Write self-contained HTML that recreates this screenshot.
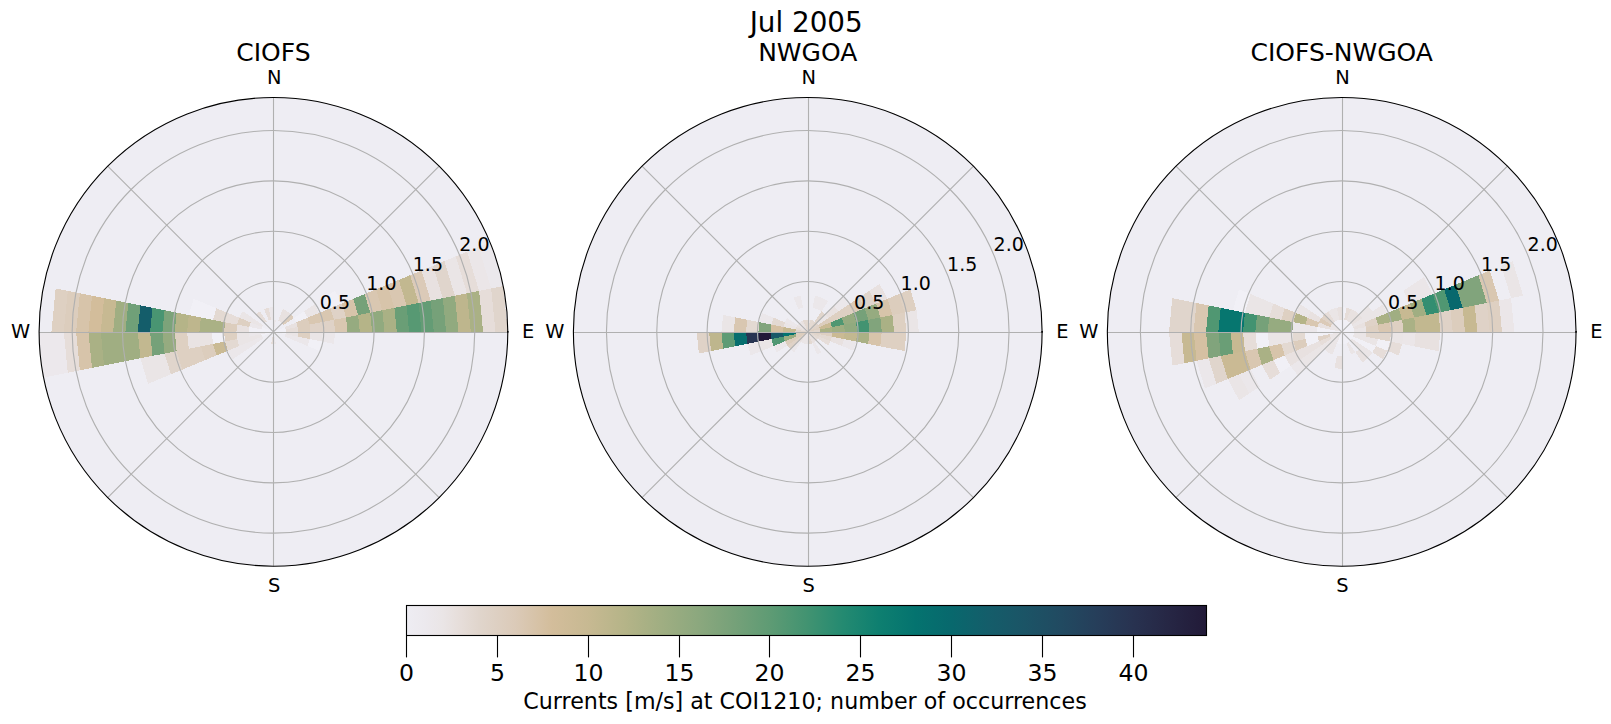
<!DOCTYPE html><html><head><meta charset="utf-8"><title>Jul 2005</title><style>html,body{margin:0;padding:0;background:#fff}svg{display:block}text{font-family:"DejaVu Sans","Liberation Sans",sans-serif;fill:#000}</style></head><body>
<svg width="1611" height="724" viewBox="0 0 1611 724">
<rect width="1611" height="724" fill="#fff"/>
<defs><linearGradient id="cb" x1="0" x2="1" y1="0" y2="0">
<stop offset="0.0000" stop-color="#eeedf3"/>
<stop offset="0.0227" stop-color="#ece9ee"/>
<stop offset="0.0455" stop-color="#eae5e6"/>
<stop offset="0.0682" stop-color="#e6ddd9"/>
<stop offset="0.0909" stop-color="#e0d5cc"/>
<stop offset="0.1364" stop-color="#dbcab8"/>
<stop offset="0.1818" stop-color="#d3bd9b"/>
<stop offset="0.2273" stop-color="#c7b992"/>
<stop offset="0.2727" stop-color="#b5b488"/>
<stop offset="0.3182" stop-color="#a0ae82"/>
<stop offset="0.3636" stop-color="#8ca87e"/>
<stop offset="0.4091" stop-color="#76a179"/>
<stop offset="0.4545" stop-color="#5e9b74"/>
<stop offset="0.5000" stop-color="#429371"/>
<stop offset="0.5455" stop-color="#248a71"/>
<stop offset="0.5909" stop-color="#0e7f70"/>
<stop offset="0.6364" stop-color="#04736f"/>
<stop offset="0.6818" stop-color="#08686d"/>
<stop offset="0.7273" stop-color="#145d6a"/>
<stop offset="0.7727" stop-color="#1b5466"/>
<stop offset="0.8182" stop-color="#214a61"/>
<stop offset="0.8636" stop-color="#263e5a"/>
<stop offset="0.9091" stop-color="#283250"/>
<stop offset="0.9545" stop-color="#262644"/>
<stop offset="1.0000" stop-color="#221a38"/>
</linearGradient></defs>
<g><circle cx="273.45" cy="331.85" r="234.35" fill="#eeedf3"/>
<g shape-rendering="crispEdges">
<polygon points="273.45,331.85 273.45,319.52 275.86,319.75 273.45,331.85" fill="#ebe7ea"/>
<polygon points="278.17,320.45 282.89,309.06 287.16,311.34 280.30,321.59" fill="#e8e1e0"/>
<polygon points="280.30,321.59 287.16,311.34 290.89,314.41 282.17,323.13" fill="#e8e1e0"/>
<polygon points="282.17,323.13 290.89,314.41 293.96,318.14 283.71,325.00" fill="#dccdbd"/>
<polygon points="293.96,318.14 304.22,311.29 307.64,317.69 296.24,322.41" fill="#f1f0f6"/>
<polygon points="304.22,311.29 314.47,304.44 319.03,312.97 307.64,317.69" fill="#eae5e6"/>
<polygon points="324.73,297.59 334.98,290.73 341.82,303.53 330.43,308.25" fill="#f1f0f6"/>
<polygon points="273.45,331.85 284.85,327.13 285.55,329.44 273.45,331.85" fill="#f1f0f6"/>
<polygon points="284.85,327.13 296.24,322.41 297.64,327.04 285.55,329.44" fill="#e8e1e0"/>
<polygon points="296.24,322.41 307.64,317.69 309.74,324.63 297.64,327.04" fill="#dccdbd"/>
<polygon points="307.64,317.69 319.03,312.97 321.84,322.22 309.74,324.63" fill="#d9c7b1"/>
<polygon points="319.03,312.97 330.43,308.25 333.94,319.82 321.84,322.22" fill="#d9c7b1"/>
<polygon points="330.43,308.25 341.82,303.53 346.03,317.41 333.94,319.82" fill="#dfd2c7"/>
<polygon points="341.82,303.53 353.22,298.81 358.13,315.01 346.03,317.41" fill="#d7c4aa"/>
<polygon points="353.22,298.81 364.61,294.09 370.23,312.60 358.13,315.01" fill="#76a179"/>
<polygon points="364.61,294.09 376.01,289.37 382.32,310.19 370.23,312.60" fill="#d9c7b1"/>
<polygon points="376.01,289.37 387.40,284.65 394.42,307.79 382.32,310.19" fill="#d7c4aa"/>
<polygon points="387.40,284.65 398.80,279.93 406.52,305.38 394.42,307.79" fill="#d9c7b1"/>
<polygon points="398.80,279.93 410.19,275.21 418.62,302.97 406.52,305.38" fill="#c2b890"/>
<polygon points="410.19,275.21 421.59,270.49 430.71,300.57 418.62,302.97" fill="#dbcab8"/>
<polygon points="421.59,270.49 432.98,265.77 442.81,298.16 430.71,300.57" fill="#e8e1e0"/>
<polygon points="432.98,265.77 444.38,261.05 454.91,295.76 442.81,298.16" fill="#e0d5cc"/>
<polygon points="444.38,261.05 455.78,256.33 467.01,293.35 454.91,295.76" fill="#eae5e6"/>
<polygon points="455.78,256.33 467.17,251.61 479.10,290.94 467.01,293.35" fill="#e6ddd9"/>
<polygon points="467.17,251.61 478.57,246.89 491.20,288.54 479.10,290.94" fill="#ebe6e8"/>
<polygon points="478.57,246.89 489.96,242.17 503.30,286.13 491.20,288.54" fill="#ebe8ec"/>
<polygon points="273.45,331.85 285.55,329.44 285.78,331.85 273.45,331.85" fill="#f1f0f6"/>
<polygon points="285.55,329.44 297.64,327.04 298.12,331.85 285.78,331.85" fill="#e6ddd9"/>
<polygon points="297.64,327.04 309.74,324.63 310.45,331.85 298.12,331.85" fill="#dccdbd"/>
<polygon points="309.74,324.63 321.84,322.22 322.79,331.85 310.45,331.85" fill="#dfd2c7"/>
<polygon points="321.84,322.22 333.94,319.82 335.12,331.85 322.79,331.85" fill="#dfd2c7"/>
<polygon points="333.94,319.82 346.03,317.41 347.46,331.85 335.12,331.85" fill="#d9c7b1"/>
<polygon points="346.03,317.41 358.13,315.01 359.79,331.85 347.46,331.85" fill="#96ab80"/>
<polygon points="358.13,315.01 370.23,312.60 372.12,331.85 359.79,331.85" fill="#b5b488"/>
<polygon points="370.23,312.60 382.32,310.19 384.46,331.85 372.12,331.85" fill="#91aa7f"/>
<polygon points="382.32,310.19 394.42,307.79 396.79,331.85 384.46,331.85" fill="#aab185"/>
<polygon points="394.42,307.79 406.52,305.38 409.13,331.85 396.79,331.85" fill="#6a9e76"/>
<polygon points="406.52,305.38 418.62,302.97 421.46,331.85 409.13,331.85" fill="#579973"/>
<polygon points="418.62,302.97 430.71,300.57 433.79,331.85 421.46,331.85" fill="#649c75"/>
<polygon points="430.71,300.57 442.81,298.16 446.13,331.85 433.79,331.85" fill="#76a179"/>
<polygon points="442.81,298.16 454.91,295.76 458.46,331.85 446.13,331.85" fill="#91aa7f"/>
<polygon points="454.91,295.76 467.01,293.35 470.80,331.85 458.46,331.85" fill="#beb68d"/>
<polygon points="467.01,293.35 479.10,290.94 483.13,331.85 470.80,331.85" fill="#aab185"/>
<polygon points="479.10,290.94 491.20,288.54 495.47,331.85 483.13,331.85" fill="#e6ddd9"/>
<polygon points="491.20,288.54 503.30,286.13 507.80,331.85 495.47,331.85" fill="#e0d5cc"/>
<polygon points="273.45,331.85 285.78,331.85 285.55,334.26 273.45,331.85" fill="#f1f0f6"/>
<polygon points="285.78,331.85 298.12,331.85 297.64,336.66 285.55,334.26" fill="#eae5e6"/>
<polygon points="298.12,331.85 310.45,331.85 309.74,339.07 297.64,336.66" fill="#ded0c2"/>
<polygon points="310.45,331.85 322.79,331.85 321.84,341.48 309.74,339.07" fill="#eae5e6"/>
<polygon points="322.79,331.85 335.12,331.85 333.94,343.88 321.84,341.48" fill="#ebe7ea"/>
<polygon points="285.55,334.26 297.64,336.66 296.24,341.29 284.85,336.57" fill="#ebe7ea"/>
<polygon points="297.64,336.66 309.74,339.07 307.64,346.01 296.24,341.29" fill="#ebe7ea"/>
<polygon points="309.74,339.07 321.84,341.48 319.03,350.73 307.64,346.01" fill="#f1f0f6"/>
<polygon points="273.45,331.85 275.86,343.95 273.45,344.18 273.45,331.85" fill="#ebe7ea"/>
<polygon points="273.45,331.85 273.45,344.18 271.04,343.95 273.45,331.85" fill="#e6ddd9"/>
<polygon points="263.19,338.70 252.94,345.56 250.66,341.29 262.05,336.57" fill="#ebe7ea"/>
<polygon points="252.94,345.56 242.68,352.41 239.26,346.01 250.66,341.29" fill="#ebe7ea"/>
<polygon points="242.68,352.41 232.43,359.26 227.87,350.73 239.26,346.01" fill="#ebe7ea"/>
<polygon points="273.45,331.85 262.05,336.57 261.35,334.26 273.45,331.85" fill="#f1f0f6"/>
<polygon points="262.05,336.57 250.66,341.29 249.26,336.66 261.35,334.26" fill="#eae5e6"/>
<polygon points="250.66,341.29 239.26,346.01 237.16,339.07 249.26,336.66" fill="#eae5e6"/>
<polygon points="239.26,346.01 227.87,350.73 225.06,341.48 237.16,339.07" fill="#e3d9d2"/>
<polygon points="227.87,350.73 216.47,355.45 212.96,343.88 225.06,341.48" fill="#caba94"/>
<polygon points="216.47,355.45 205.08,360.17 200.87,346.29 212.96,343.88" fill="#dccdbd"/>
<polygon points="205.08,360.17 193.68,364.89 188.77,348.69 200.87,346.29" fill="#ded0c2"/>
<polygon points="193.68,364.89 182.29,369.61 176.67,351.10 188.77,348.69" fill="#ded0c2"/>
<polygon points="182.29,369.61 170.89,374.33 164.58,353.51 176.67,351.10" fill="#e0d5cc"/>
<polygon points="170.89,374.33 159.50,379.05 152.48,355.91 164.58,353.51" fill="#eae5e6"/>
<polygon points="159.50,379.05 148.10,383.77 140.38,358.32 152.48,355.91" fill="#eae5e6"/>
<polygon points="273.45,331.85 261.35,334.26 261.12,331.85 273.45,331.85" fill="#ebe7ea"/>
<polygon points="261.35,334.26 249.26,336.66 248.78,331.85 261.12,331.85" fill="#ebe7ea"/>
<polygon points="249.26,336.66 237.16,339.07 236.45,331.85 248.78,331.85" fill="#eae5e6"/>
<polygon points="237.16,339.07 225.06,341.48 224.11,331.85 236.45,331.85" fill="#ded0c2"/>
<polygon points="225.06,341.48 212.96,343.88 211.78,331.85 224.11,331.85" fill="#f1f0f6"/>
<polygon points="212.96,343.88 200.87,346.29 199.44,331.85 211.78,331.85" fill="#e9e3e3"/>
<polygon points="200.87,346.29 188.77,348.69 187.11,331.85 199.44,331.85" fill="#e9e3e3"/>
<polygon points="188.77,348.69 176.67,351.10 174.78,331.85 187.11,331.85" fill="#ded0c2"/>
<polygon points="176.67,351.10 164.58,353.51 162.44,331.85 174.78,331.85" fill="#96ab80"/>
<polygon points="164.58,353.51 152.48,355.91 150.11,331.85 162.44,331.85" fill="#76a179"/>
<polygon points="152.48,355.91 140.38,358.32 137.77,331.85 150.11,331.85" fill="#c2b890"/>
<polygon points="140.38,358.32 128.28,360.73 125.44,331.85 137.77,331.85" fill="#a0ae82"/>
<polygon points="128.28,360.73 116.19,363.13 113.11,331.85 125.44,331.85" fill="#a0ae82"/>
<polygon points="116.19,363.13 104.09,365.54 100.77,331.85 113.11,331.85" fill="#a0ae82"/>
<polygon points="104.09,365.54 91.99,367.94 88.44,331.85 100.77,331.85" fill="#aab185"/>
<polygon points="91.99,367.94 79.89,370.35 76.10,331.85 88.44,331.85" fill="#d7c4aa"/>
<polygon points="79.89,370.35 67.80,372.76 63.77,331.85 76.10,331.85" fill="#e6ddd9"/>
<polygon points="67.80,372.76 55.70,375.16 51.43,331.85 63.77,331.85" fill="#ece8ec"/>
<polygon points="55.70,375.16 43.60,377.57 39.10,331.85 51.43,331.85" fill="#ece8ec"/>
<polygon points="273.45,331.85 261.12,331.85 261.35,329.44 273.45,331.85" fill="#f1f0f6"/>
<polygon points="261.12,331.85 248.78,331.85 249.26,327.04 261.35,329.44" fill="#f1f0f6"/>
<polygon points="248.78,331.85 236.45,331.85 237.16,324.63 249.26,327.04" fill="#e8e1e0"/>
<polygon points="236.45,331.85 224.11,331.85 225.06,322.22 237.16,324.63" fill="#dccdbd"/>
<polygon points="224.11,331.85 211.78,331.85 212.96,319.82 225.06,322.22" fill="#aab185"/>
<polygon points="211.78,331.85 199.44,331.85 200.87,317.41 212.96,319.82" fill="#aab185"/>
<polygon points="199.44,331.85 187.11,331.85 188.77,315.01 200.87,317.41" fill="#beb68d"/>
<polygon points="187.11,331.85 174.78,331.85 176.67,312.60 188.77,315.01" fill="#b5b488"/>
<polygon points="174.78,331.85 162.44,331.85 164.58,310.19 176.67,312.60" fill="#7ca37a"/>
<polygon points="162.44,331.85 150.11,331.85 152.48,307.79 164.58,310.19" fill="#499572"/>
<polygon points="150.11,331.85 137.77,331.85 140.38,305.38 152.48,307.79" fill="#145d6a"/>
<polygon points="137.77,331.85 125.44,331.85 128.28,302.97 140.38,305.38" fill="#70a078"/>
<polygon points="125.44,331.85 113.11,331.85 116.19,300.57 128.28,302.97" fill="#a0ae82"/>
<polygon points="113.11,331.85 100.77,331.85 104.09,298.16 116.19,300.57" fill="#c7b992"/>
<polygon points="100.77,331.85 88.44,331.85 91.99,295.76 104.09,298.16" fill="#d3bd9b"/>
<polygon points="88.44,331.85 76.10,331.85 79.89,293.35 91.99,295.76" fill="#d7c4aa"/>
<polygon points="76.10,331.85 63.77,331.85 67.80,290.94 79.89,293.35" fill="#dccdbd"/>
<polygon points="63.77,331.85 51.43,331.85 55.70,288.54 67.80,290.94" fill="#ded0c2"/>
<polygon points="273.45,331.85 261.35,329.44 262.05,327.13 273.45,331.85" fill="#f1f0f6"/>
<polygon points="261.35,329.44 249.26,327.04 250.66,322.41 262.05,327.13" fill="#ebe7ea"/>
<polygon points="249.26,327.04 237.16,324.63 239.26,317.69 250.66,322.41" fill="#ded0c2"/>
<polygon points="237.16,324.63 225.06,322.22 227.87,312.97 239.26,317.69" fill="#e6ddd9"/>
<polygon points="225.06,322.22 212.96,319.82 216.47,308.25 227.87,312.97" fill="#e3d9d2"/>
<polygon points="212.96,319.82 200.87,317.41 205.08,303.53 216.47,308.25" fill="#f1f0f6"/>
<polygon points="200.87,317.41 188.77,315.01 193.68,298.81 205.08,303.53" fill="#f1f0f6"/>
<polygon points="262.05,327.13 250.66,322.41 252.94,318.14 263.19,325.00" fill="#eae5e6"/>
<polygon points="250.66,322.41 239.26,317.69 242.68,311.29 252.94,318.14" fill="#eae5e6"/>
<polygon points="264.73,323.13 256.01,314.41 259.74,311.34 266.60,321.59" fill="#e6ddd9"/>
<polygon points="268.73,320.45 264.01,309.06 268.64,307.66 271.04,319.75" fill="#e6ddd9"/>
<polygon points="271.04,319.75 268.64,307.66 273.45,307.18 273.45,319.52" fill="#ebe7ea"/>
</g>
<g stroke="#b0b0b0" stroke-width="1.11" fill="none">
<line x1="273.45" y1="331.85" x2="439.16" y2="166.14"/>
<line x1="273.45" y1="331.85" x2="439.16" y2="497.56"/>
<line x1="273.45" y1="331.85" x2="107.74" y2="497.56"/>
<line x1="273.45" y1="331.85" x2="107.74" y2="166.14"/>
<line x1="39.10" y1="332.5" x2="507.80" y2="332.5"/>
<line x1="273.5" y1="97.50" x2="273.5" y2="566.20"/>
<circle cx="273.45" cy="331.85" r="50.33"/>
<circle cx="273.45" cy="331.85" r="100.65"/>
<circle cx="273.45" cy="331.85" r="150.98"/>
<circle cx="273.45" cy="331.85" r="201.30"/>
</g>
<circle cx="273.45" cy="331.85" r="234.35" fill="none" stroke="#000" stroke-width="1.11"/>
<rect x="507.00" y="331.05" width="1.6" height="1.6" fill="#000"/>
<text x="274.34999999999997" y="83.8" font-size="19.4" text-anchor="middle">N</text>
<text x="274.25" y="591.7" font-size="19.4" text-anchor="middle">S</text>
<text x="528.1999999999999" y="337.9" font-size="19.4" text-anchor="middle">E</text>
<text x="20.599999999999994" y="337.9" font-size="19.4" text-anchor="middle">W</text>
<text x="334.9" y="309.3" font-size="19" text-anchor="middle">0.5</text>
<text x="381.4" y="290.0" font-size="19" text-anchor="middle">1.0</text>
<text x="427.9" y="270.8" font-size="19" text-anchor="middle">1.5</text>
<text x="474.4" y="250.9" font-size="19" text-anchor="middle">2.0</text>
<text x="273.45" y="61" font-size="25" text-anchor="middle">CIOFS</text>
</g>
<g><circle cx="807.75" cy="331.85" r="234.35" fill="#eeedf3"/>
<g shape-rendering="crispEdges">
<polygon points="807.75,331.85 807.75,319.52 810.16,319.75 807.75,331.85" fill="#eae5e6"/>
<polygon points="807.75,331.85 810.16,319.75 812.47,320.45 807.75,331.85" fill="#e3d9d2"/>
<polygon points="812.56,307.66 814.97,295.56 821.91,297.66 817.19,309.06" fill="#ebe7ea"/>
<polygon points="807.75,331.85 812.47,320.45 814.60,321.59 807.75,331.85" fill="#e3d9d2"/>
<polygon points="817.19,309.06 821.91,297.66 828.31,301.08 821.46,311.34" fill="#ebe7ea"/>
<polygon points="807.75,331.85 814.60,321.59 816.47,323.13 807.75,331.85" fill="#e0d5cc"/>
<polygon points="814.60,321.59 821.46,311.34 825.19,314.41 816.47,323.13" fill="#e0d5cc"/>
<polygon points="807.75,331.85 816.47,323.13 818.01,325.00 807.75,331.85" fill="#e0d5cc"/>
<polygon points="816.47,323.13 825.19,314.41 828.26,318.14 818.01,325.00" fill="#eae5e6"/>
<polygon points="825.19,314.41 833.91,305.69 838.52,311.29 828.26,318.14" fill="#e8e1e0"/>
<polygon points="833.91,305.69 842.64,296.96 848.77,304.44 838.52,311.29" fill="#ebe7ea"/>
<polygon points="807.75,331.85 818.01,325.00 819.15,327.13 807.75,331.85" fill="#dfd2c7"/>
<polygon points="818.01,325.00 828.26,318.14 830.54,322.41 819.15,327.13" fill="#dccdbd"/>
<polygon points="828.26,318.14 838.52,311.29 841.94,317.69 830.54,322.41" fill="#ded0c2"/>
<polygon points="838.52,311.29 848.77,304.44 853.33,312.97 841.94,317.69" fill="#ded0c2"/>
<polygon points="848.77,304.44 859.03,297.59 864.73,308.25 853.33,312.97" fill="#dbcab8"/>
<polygon points="859.03,297.59 869.28,290.73 876.12,303.53 864.73,308.25" fill="#e0d5cc"/>
<polygon points="869.28,290.73 879.54,283.88 887.52,298.81 876.12,303.53" fill="#e8e1e0"/>
<polygon points="807.75,331.85 819.15,327.13 819.85,329.44 807.75,331.85" fill="#ded0c2"/>
<polygon points="819.15,327.13 830.54,322.41 831.94,327.04 819.85,329.44" fill="#caba94"/>
<polygon points="830.54,322.41 841.94,317.69 844.04,324.63 831.94,327.04" fill="#509772"/>
<polygon points="841.94,317.69 853.33,312.97 856.14,322.22 844.04,324.63" fill="#96ab80"/>
<polygon points="853.33,312.97 864.73,308.25 868.24,319.82 856.14,322.22" fill="#76a179"/>
<polygon points="864.73,308.25 876.12,303.53 880.33,317.41 868.24,319.82" fill="#96ab80"/>
<polygon points="876.12,303.53 887.52,298.81 892.43,315.01 880.33,317.41" fill="#d7c4aa"/>
<polygon points="887.52,298.81 898.91,294.09 904.53,312.60 892.43,315.01" fill="#dccdbd"/>
<polygon points="898.91,294.09 910.31,289.37 916.62,310.19 904.53,312.60" fill="#ded0c2"/>
<polygon points="807.75,331.85 819.85,329.44 820.08,331.85 807.75,331.85" fill="#e0d5cc"/>
<polygon points="819.85,329.44 831.94,327.04 832.42,331.85 820.08,331.85" fill="#aab185"/>
<polygon points="831.94,327.04 844.04,324.63 844.75,331.85 832.42,331.85" fill="#a0ae82"/>
<polygon points="844.04,324.63 856.14,322.22 857.09,331.85 844.75,331.85" fill="#91aa7f"/>
<polygon points="856.14,322.22 868.24,319.82 869.42,331.85 857.09,331.85" fill="#429371"/>
<polygon points="868.24,319.82 880.33,317.41 881.76,331.85 869.42,331.85" fill="#81a47c"/>
<polygon points="880.33,317.41 892.43,315.01 894.09,331.85 881.76,331.85" fill="#aab185"/>
<polygon points="892.43,315.01 904.53,312.60 906.42,331.85 894.09,331.85" fill="#ded0c2"/>
<polygon points="904.53,312.60 916.62,310.19 918.76,331.85 906.42,331.85" fill="#eae5e6"/>
<polygon points="807.75,331.85 820.08,331.85 819.85,334.26 807.75,331.85" fill="#dfd2c7"/>
<polygon points="820.08,331.85 832.42,331.85 831.94,336.66 819.85,334.26" fill="#ded0c2"/>
<polygon points="832.42,331.85 844.75,331.85 844.04,339.07 831.94,336.66" fill="#caba94"/>
<polygon points="844.75,331.85 857.09,331.85 856.14,341.48 844.04,339.07" fill="#c2b890"/>
<polygon points="857.09,331.85 869.42,331.85 868.24,343.88 856.14,341.48" fill="#aab185"/>
<polygon points="869.42,331.85 881.76,331.85 880.33,346.29 868.24,343.88" fill="#d7c4aa"/>
<polygon points="881.76,331.85 894.09,331.85 892.43,348.69 880.33,346.29" fill="#ded0c2"/>
<polygon points="894.09,331.85 906.42,331.85 904.53,351.10 892.43,348.69" fill="#ded0c2"/>
<polygon points="807.75,331.85 819.85,334.26 819.15,336.57 807.75,331.85" fill="#e0d5cc"/>
<polygon points="819.85,334.26 831.94,336.66 830.54,341.29 819.15,336.57" fill="#e3d9d2"/>
<polygon points="831.94,336.66 844.04,339.07 841.94,346.01 830.54,341.29" fill="#e8e1e0"/>
<polygon points="844.04,339.07 856.14,341.48 853.33,350.73 841.94,346.01" fill="#ebe7ea"/>
<polygon points="807.75,331.85 819.15,336.57 818.01,338.70 807.75,331.85" fill="#e3d9d2"/>
<polygon points="819.15,336.57 830.54,341.29 828.26,345.56 818.01,338.70" fill="#e6ddd9"/>
<polygon points="807.75,331.85 818.01,338.70 816.47,340.57 807.75,331.85" fill="#e6ddd9"/>
<polygon points="807.75,331.85 816.47,340.57 814.60,342.11 807.75,331.85" fill="#e8e1e0"/>
<polygon points="807.75,331.85 814.60,342.11 812.47,343.25 807.75,331.85" fill="#e8e1e0"/>
<polygon points="814.60,342.11 821.46,352.36 817.19,354.64 812.47,343.25" fill="#ebe7ea"/>
<polygon points="807.75,331.85 812.47,343.25 810.16,343.95 807.75,331.85" fill="#e3d9d2"/>
<polygon points="807.75,331.85 810.16,343.95 807.75,344.18 807.75,331.85" fill="#e0d5cc"/>
<polygon points="807.75,331.85 807.75,344.18 805.34,343.95 807.75,331.85" fill="#eae5e6"/>
<polygon points="807.75,331.85 805.34,343.95 803.03,343.25 807.75,331.85" fill="#eae5e6"/>
<polygon points="807.75,331.85 803.03,343.25 800.90,342.11 807.75,331.85" fill="#eae5e6"/>
<polygon points="807.75,331.85 800.90,342.11 799.03,340.57 807.75,331.85" fill="#e8e1e0"/>
<polygon points="800.90,342.11 794.04,352.36 790.31,349.29 799.03,340.57" fill="#ebe7ea"/>
<polygon points="807.75,331.85 799.03,340.57 797.49,338.70 807.75,331.85" fill="#dfd2c7"/>
<polygon points="799.03,340.57 790.31,349.29 787.24,345.56 797.49,338.70" fill="#dfd2c7"/>
<polygon points="807.75,331.85 797.49,338.70 796.35,336.57 807.75,331.85" fill="#dccdbd"/>
<polygon points="797.49,338.70 787.24,345.56 784.96,341.29 796.35,336.57" fill="#dccdbd"/>
<polygon points="787.24,345.56 776.98,352.41 773.56,346.01 784.96,341.29" fill="#ebe7ea"/>
<polygon points="807.75,331.85 796.35,336.57 795.65,334.26 807.75,331.85" fill="#dccdbd"/>
<polygon points="796.35,336.57 784.96,341.29 783.56,336.66 795.65,334.26" fill="#9bac81"/>
<polygon points="784.96,341.29 773.56,346.01 771.46,339.07 783.56,336.66" fill="#509772"/>
<polygon points="773.56,346.01 762.17,350.73 759.36,341.48 771.46,339.07" fill="#eae5e6"/>
<polygon points="762.17,350.73 750.77,355.45 747.26,343.88 759.36,341.48" fill="#ebe7ea"/>
<polygon points="807.75,331.85 795.65,334.26 795.42,331.85 807.75,331.85" fill="#ded0c2"/>
<polygon points="795.65,334.26 783.56,336.66 783.08,331.85 795.42,331.85" fill="#04736f"/>
<polygon points="783.56,336.66 771.46,339.07 770.75,331.85 783.08,331.85" fill="#185868"/>
<polygon points="771.46,339.07 759.36,341.48 758.41,331.85 770.75,331.85" fill="#221a38"/>
<polygon points="759.36,341.48 747.26,343.88 746.08,331.85 758.41,331.85" fill="#283552"/>
<polygon points="747.26,343.88 735.17,346.29 733.74,331.85 746.08,331.85" fill="#066e6e"/>
<polygon points="735.17,346.29 723.07,348.69 721.41,331.85 733.74,331.85" fill="#5e9b74"/>
<polygon points="723.07,348.69 710.97,351.10 709.08,331.85 721.41,331.85" fill="#beb68d"/>
<polygon points="710.97,351.10 698.88,353.51 696.74,331.85 709.08,331.85" fill="#dfd2c7"/>
<polygon points="807.75,331.85 795.42,331.85 795.65,329.44 807.75,331.85" fill="#e0d5cc"/>
<polygon points="795.42,331.85 783.08,331.85 783.56,327.04 795.65,329.44" fill="#c7b992"/>
<polygon points="783.08,331.85 770.75,331.85 771.46,324.63 783.56,327.04" fill="#d5c0a2"/>
<polygon points="770.75,331.85 758.41,331.85 759.36,322.22 771.46,324.63" fill="#81a47c"/>
<polygon points="758.41,331.85 746.08,331.85 747.26,319.82 759.36,322.22" fill="#e3d9d2"/>
<polygon points="746.08,331.85 733.74,331.85 735.17,317.41 747.26,319.82" fill="#d9c7b1"/>
<polygon points="733.74,331.85 721.41,331.85 723.07,315.01 735.17,317.41" fill="#eae5e6"/>
<polygon points="807.75,331.85 795.65,329.44 796.35,327.13 807.75,331.85" fill="#e6ddd9"/>
<polygon points="795.65,329.44 783.56,327.04 784.96,322.41 796.35,327.13" fill="#eae5e6"/>
<polygon points="783.56,327.04 771.46,324.63 773.56,317.69 784.96,322.41" fill="#e3d9d2"/>
<polygon points="771.46,324.63 759.36,322.22 762.17,312.97 773.56,317.69" fill="#ebe7ea"/>
<polygon points="807.75,331.85 796.35,327.13 797.49,325.00 807.75,331.85" fill="#e8e1e0"/>
<polygon points="796.35,327.13 784.96,322.41 787.24,318.14 797.49,325.00" fill="#ebe7ea"/>
<polygon points="807.75,331.85 797.49,325.00 799.03,323.13 807.75,331.85" fill="#eae5e6"/>
<polygon points="807.75,331.85 799.03,323.13 800.90,321.59 807.75,331.85" fill="#eae5e6"/>
<polygon points="807.75,331.85 800.90,321.59 803.03,320.45 807.75,331.85" fill="#e8e1e0"/>
<polygon points="807.75,331.85 803.03,320.45 805.34,319.75 807.75,331.85" fill="#e3d9d2"/>
<polygon points="798.31,309.06 793.59,297.66 800.53,295.56 802.94,307.66" fill="#ebe7ea"/>
<polygon points="807.75,331.85 805.34,319.75 807.75,319.52 807.75,331.85" fill="#e3d9d2"/>
</g>
<g stroke="#b0b0b0" stroke-width="1.11" fill="none">
<line x1="807.75" y1="331.85" x2="973.46" y2="166.14"/>
<line x1="807.75" y1="331.85" x2="973.46" y2="497.56"/>
<line x1="807.75" y1="331.85" x2="642.04" y2="497.56"/>
<line x1="807.75" y1="331.85" x2="642.04" y2="166.14"/>
<line x1="573.40" y1="332.5" x2="1042.10" y2="332.5"/>
<line x1="808.5" y1="97.50" x2="808.5" y2="566.20"/>
<circle cx="807.75" cy="331.85" r="50.33"/>
<circle cx="807.75" cy="331.85" r="100.65"/>
<circle cx="807.75" cy="331.85" r="150.98"/>
<circle cx="807.75" cy="331.85" r="201.30"/>
</g>
<circle cx="807.75" cy="331.85" r="234.35" fill="none" stroke="#000" stroke-width="1.11"/>
<rect x="1041.30" y="331.05" width="1.6" height="1.6" fill="#000"/>
<text x="808.65" y="83.8" font-size="19.4" text-anchor="middle">N</text>
<text x="808.55" y="591.7" font-size="19.4" text-anchor="middle">S</text>
<text x="1062.5" y="337.9" font-size="19.4" text-anchor="middle">E</text>
<text x="554.9" y="337.9" font-size="19.4" text-anchor="middle">W</text>
<text x="869.2" y="309.3" font-size="19" text-anchor="middle">0.5</text>
<text x="915.7" y="290.0" font-size="19" text-anchor="middle">1.0</text>
<text x="962.2" y="270.8" font-size="19" text-anchor="middle">1.5</text>
<text x="1008.7" y="250.9" font-size="19" text-anchor="middle">2.0</text>
<text x="807.75" y="61" font-size="25" text-anchor="middle">NWGOA</text>
</g>
<g><circle cx="1341.7" cy="331.85" r="234.35" fill="#eeedf3"/>
<g shape-rendering="crispEdges">
<polygon points="1341.70,331.85 1341.70,319.52 1344.11,319.75 1341.70,331.85" fill="#f1f0f6"/>
<polygon points="1341.70,319.52 1341.70,307.18 1346.51,307.66 1344.11,319.75" fill="#f1f0f6"/>
<polygon points="1341.70,331.85 1344.11,319.75 1346.42,320.45 1341.70,331.85" fill="#f1f0f6"/>
<polygon points="1344.11,319.75 1346.51,307.66 1351.14,309.06 1346.42,320.45" fill="#e6ddd9"/>
<polygon points="1341.70,331.85 1346.42,320.45 1348.55,321.59 1341.70,331.85" fill="#f1f0f6"/>
<polygon points="1346.42,320.45 1351.14,309.06 1355.41,311.34 1348.55,321.59" fill="#e8e1e0"/>
<polygon points="1341.70,331.85 1348.55,321.59 1350.42,323.13 1341.70,331.85" fill="#f1f0f6"/>
<polygon points="1348.55,321.59 1355.41,311.34 1359.14,314.41 1350.42,323.13" fill="#e8e1e0"/>
<polygon points="1341.70,331.85 1350.42,323.13 1351.96,325.00 1341.70,331.85" fill="#f1f0f6"/>
<polygon points="1350.42,323.13 1359.14,314.41 1362.21,318.14 1351.96,325.00" fill="#e8e1e0"/>
<polygon points="1359.14,314.41 1367.86,305.69 1372.47,311.29 1362.21,318.14" fill="#eae5e6"/>
<polygon points="1341.70,331.85 1351.96,325.00 1353.10,327.13 1341.70,331.85" fill="#f1f0f6"/>
<polygon points="1351.96,325.00 1362.21,318.14 1364.49,322.41 1353.10,327.13" fill="#eae5e6"/>
<polygon points="1362.21,318.14 1372.47,311.29 1375.89,317.69 1364.49,322.41" fill="#eae5e6"/>
<polygon points="1372.47,311.29 1382.72,304.44 1387.28,312.97 1375.89,317.69" fill="#eae5e6"/>
<polygon points="1403.23,290.73 1413.49,283.88 1421.47,298.81 1410.07,303.53" fill="#ebe6e8"/>
<polygon points="1413.49,283.88 1423.74,277.03 1432.86,294.09 1421.47,298.81" fill="#ebe6e8"/>
<polygon points="1341.70,331.85 1353.10,327.13 1353.80,329.44 1341.70,331.85" fill="#f1f0f6"/>
<polygon points="1353.10,327.13 1364.49,322.41 1365.89,327.04 1353.80,329.44" fill="#e8e1e0"/>
<polygon points="1364.49,322.41 1375.89,317.69 1377.99,324.63 1365.89,327.04" fill="#dfd2c7"/>
<polygon points="1375.89,317.69 1387.28,312.97 1390.09,322.22 1377.99,324.63" fill="#aab185"/>
<polygon points="1387.28,312.97 1398.68,308.25 1402.19,319.82 1390.09,322.22" fill="#a0ae82"/>
<polygon points="1398.68,308.25 1410.07,303.53 1414.28,317.41 1402.19,319.82" fill="#c7b992"/>
<polygon points="1410.07,303.53 1421.47,298.81 1426.38,315.01 1414.28,317.41" fill="#a0ae82"/>
<polygon points="1421.47,298.81 1432.86,294.09 1438.48,312.60 1426.38,315.01" fill="#338e71"/>
<polygon points="1432.86,294.09 1444.26,289.37 1450.57,310.19 1438.48,312.60" fill="#509772"/>
<polygon points="1444.26,289.37 1455.65,284.65 1462.67,307.79 1450.57,310.19" fill="#08686d"/>
<polygon points="1455.65,284.65 1467.05,279.93 1474.77,305.38 1462.67,307.79" fill="#81a47c"/>
<polygon points="1467.05,279.93 1478.44,275.21 1486.87,302.97 1474.77,305.38" fill="#81a47c"/>
<polygon points="1478.44,275.21 1489.84,270.49 1498.96,300.57 1486.87,302.97" fill="#d9c7b1"/>
<polygon points="1501.23,265.77 1512.63,261.05 1523.16,295.76 1511.06,298.16" fill="#eae5e6"/>
<polygon points="1341.70,331.85 1353.80,329.44 1354.03,331.85 1341.70,331.85" fill="#f1f0f6"/>
<polygon points="1353.80,329.44 1365.89,327.04 1366.37,331.85 1354.03,331.85" fill="#eae5e6"/>
<polygon points="1365.89,327.04 1377.99,324.63 1378.70,331.85 1366.37,331.85" fill="#ded0c2"/>
<polygon points="1377.99,324.63 1390.09,322.22 1391.04,331.85 1378.70,331.85" fill="#d9c7b1"/>
<polygon points="1390.09,322.22 1402.19,319.82 1403.37,331.85 1391.04,331.85" fill="#ded0c2"/>
<polygon points="1402.19,319.82 1414.28,317.41 1415.71,331.85 1403.37,331.85" fill="#aab185"/>
<polygon points="1414.28,317.41 1426.38,315.01 1428.04,331.85 1415.71,331.85" fill="#c2b890"/>
<polygon points="1426.38,315.01 1438.48,312.60 1440.37,331.85 1428.04,331.85" fill="#c2b890"/>
<polygon points="1438.48,312.60 1450.57,310.19 1452.71,331.85 1440.37,331.85" fill="#dfd2c7"/>
<polygon points="1450.57,310.19 1462.67,307.79 1465.04,331.85 1452.71,331.85" fill="#dccdbd"/>
<polygon points="1462.67,307.79 1474.77,305.38 1477.38,331.85 1465.04,331.85" fill="#c7b992"/>
<polygon points="1474.77,305.38 1486.87,302.97 1489.71,331.85 1477.38,331.85" fill="#dfd2c7"/>
<polygon points="1486.87,302.97 1498.96,300.57 1502.04,331.85 1489.71,331.85" fill="#ded0c2"/>
<polygon points="1498.96,300.57 1511.06,298.16 1514.38,331.85 1502.04,331.85" fill="#ebe6e8"/>
<polygon points="1341.70,331.85 1354.03,331.85 1353.80,334.26 1341.70,331.85" fill="#f1f0f6"/>
<polygon points="1354.03,331.85 1366.37,331.85 1365.89,336.66 1353.80,334.26" fill="#eae5e6"/>
<polygon points="1366.37,331.85 1378.70,331.85 1377.99,339.07 1365.89,336.66" fill="#e0d5cc"/>
<polygon points="1378.70,331.85 1391.04,331.85 1390.09,341.48 1377.99,339.07" fill="#e0d5cc"/>
<polygon points="1391.04,331.85 1403.37,331.85 1402.19,343.88 1390.09,341.48" fill="#eae5e6"/>
<polygon points="1403.37,331.85 1415.71,331.85 1414.28,346.29 1402.19,343.88" fill="#ebe6e8"/>
<polygon points="1415.71,331.85 1428.04,331.85 1426.38,348.69 1414.28,346.29" fill="#e8e1e0"/>
<polygon points="1428.04,331.85 1440.37,331.85 1438.48,351.10 1426.38,348.69" fill="#e8e1e0"/>
<polygon points="1341.70,331.85 1353.80,334.26 1353.10,336.57 1341.70,331.85" fill="#f1f0f6"/>
<polygon points="1353.80,334.26 1365.89,336.66 1364.49,341.29 1353.10,336.57" fill="#eae5e6"/>
<polygon points="1365.89,336.66 1377.99,339.07 1375.89,346.01 1364.49,341.29" fill="#eae5e6"/>
<polygon points="1377.99,339.07 1390.09,341.48 1387.28,350.73 1375.89,346.01" fill="#f1f0f6"/>
<polygon points="1390.09,341.48 1402.19,343.88 1398.68,355.45 1387.28,350.73" fill="#e6ddd9"/>
<polygon points="1341.70,331.85 1353.10,336.57 1351.96,338.70 1341.70,331.85" fill="#f1f0f6"/>
<polygon points="1353.10,336.57 1364.49,341.29 1362.21,345.56 1351.96,338.70" fill="#f1f0f6"/>
<polygon points="1364.49,341.29 1375.89,346.01 1372.47,352.41 1362.21,345.56" fill="#f1f0f6"/>
<polygon points="1375.89,346.01 1387.28,350.73 1382.72,359.26 1372.47,352.41" fill="#e6ddd9"/>
<polygon points="1341.70,331.85 1351.96,338.70 1350.42,340.57 1341.70,331.85" fill="#f1f0f6"/>
<polygon points="1351.96,338.70 1362.21,345.56 1359.14,349.29 1350.42,340.57" fill="#eae5e6"/>
<polygon points="1362.21,345.56 1372.47,352.41 1367.86,358.01 1359.14,349.29" fill="#eae5e6"/>
<polygon points="1341.70,331.85 1350.42,340.57 1348.55,342.11 1341.70,331.85" fill="#f1f0f6"/>
<polygon points="1359.14,349.29 1367.86,358.01 1362.26,362.62 1355.41,352.36" fill="#e8e1e0"/>
<polygon points="1341.70,331.85 1348.55,342.11 1346.42,343.25 1341.70,331.85" fill="#f1f0f6"/>
<polygon points="1348.55,342.11 1355.41,352.36 1351.14,354.64 1346.42,343.25" fill="#eae5e6"/>
<polygon points="1341.70,331.85 1346.42,343.25 1344.11,343.95 1341.70,331.85" fill="#f1f0f6"/>
<polygon points="1341.70,331.85 1344.11,343.95 1341.70,344.18 1341.70,331.85" fill="#f1f0f6"/>
<polygon points="1341.70,331.85 1341.70,344.18 1339.29,343.95 1341.70,331.85" fill="#f1f0f6"/>
<polygon points="1341.70,356.52 1341.70,368.85 1334.48,368.14 1336.89,356.04" fill="#e8e1e0"/>
<polygon points="1341.70,331.85 1339.29,343.95 1336.98,343.25 1341.70,331.85" fill="#f1f0f6"/>
<polygon points="1341.70,331.85 1336.98,343.25 1334.85,342.11 1341.70,331.85" fill="#ebe6e8"/>
<polygon points="1336.98,343.25 1332.26,354.64 1327.99,352.36 1334.85,342.11" fill="#eae5e6"/>
<polygon points="1341.70,331.85 1334.85,342.11 1332.98,340.57 1341.70,331.85" fill="#ebe6e8"/>
<polygon points="1334.85,342.11 1327.99,352.36 1324.26,349.29 1332.98,340.57" fill="#eae5e6"/>
<polygon points="1341.70,331.85 1332.98,340.57 1331.44,338.70 1341.70,331.85" fill="#eae5e6"/>
<polygon points="1332.98,340.57 1324.26,349.29 1321.19,345.56 1331.44,338.70" fill="#eae5e6"/>
<polygon points="1324.26,349.29 1315.54,358.01 1310.93,352.41 1321.19,345.56" fill="#eae5e6"/>
<polygon points="1315.54,358.01 1306.81,366.74 1300.68,359.26 1310.93,352.41" fill="#eae5e6"/>
<polygon points="1306.81,366.74 1298.09,375.46 1290.42,366.11 1300.68,359.26" fill="#ebe7ea"/>
<polygon points="1341.70,331.85 1331.44,338.70 1330.30,336.57 1341.70,331.85" fill="#eae5e6"/>
<polygon points="1331.44,338.70 1321.19,345.56 1318.91,341.29 1330.30,336.57" fill="#e6ddd9"/>
<polygon points="1321.19,345.56 1310.93,352.41 1307.51,346.01 1318.91,341.29" fill="#e8e1e0"/>
<polygon points="1310.93,352.41 1300.68,359.26 1296.12,350.73 1307.51,346.01" fill="#e8e1e0"/>
<polygon points="1300.68,359.26 1290.42,366.11 1284.72,355.45 1296.12,350.73" fill="#e8e1e0"/>
<polygon points="1290.42,366.11 1280.17,372.97 1273.33,360.17 1284.72,355.45" fill="#f1f0f6"/>
<polygon points="1280.17,372.97 1269.91,379.82 1261.93,364.89 1273.33,360.17" fill="#e6ddd9"/>
<polygon points="1259.66,386.67 1249.40,393.52 1239.14,374.33 1250.54,369.61" fill="#ebe7ea"/>
<polygon points="1249.40,393.52 1239.14,400.38 1227.75,379.05 1239.14,374.33" fill="#eae5e6"/>
<polygon points="1341.70,331.85 1330.30,336.57 1329.60,334.26 1341.70,331.85" fill="#eae5e6"/>
<polygon points="1330.30,336.57 1318.91,341.29 1317.51,336.66 1329.60,334.26" fill="#dfd2c7"/>
<polygon points="1318.91,341.29 1307.51,346.01 1305.41,339.07 1317.51,336.66" fill="#f1f0f6"/>
<polygon points="1307.51,346.01 1296.12,350.73 1293.31,341.48 1305.41,339.07" fill="#dccdbd"/>
<polygon points="1296.12,350.73 1284.72,355.45 1281.21,343.88 1293.31,341.48" fill="#e3d9d2"/>
<polygon points="1284.72,355.45 1273.33,360.17 1269.12,346.29 1281.21,343.88" fill="#d7c4aa"/>
<polygon points="1273.33,360.17 1261.93,364.89 1257.02,348.69 1269.12,346.29" fill="#aab185"/>
<polygon points="1261.93,364.89 1250.54,369.61 1244.92,351.10 1257.02,348.69" fill="#d9c7b1"/>
<polygon points="1250.54,369.61 1239.14,374.33 1232.83,353.51 1244.92,351.10" fill="#caba94"/>
<polygon points="1239.14,374.33 1227.75,379.05 1220.73,355.91 1232.83,353.51" fill="#caba94"/>
<polygon points="1227.75,379.05 1216.35,383.77 1208.63,358.32 1220.73,355.91" fill="#e0d5cc"/>
<polygon points="1216.35,383.77 1204.96,388.49 1196.53,360.73 1208.63,358.32" fill="#ebe7ea"/>
<polygon points="1341.70,331.85 1329.60,334.26 1329.37,331.85 1341.70,331.85" fill="#f1f0f6"/>
<polygon points="1329.60,334.26 1317.51,336.66 1317.03,331.85 1329.37,331.85" fill="#f1f0f6"/>
<polygon points="1317.51,336.66 1305.41,339.07 1304.70,331.85 1317.03,331.85" fill="#f1f0f6"/>
<polygon points="1305.41,339.07 1293.31,341.48 1292.36,331.85 1304.70,331.85" fill="#e3d9d2"/>
<polygon points="1293.31,341.48 1281.21,343.88 1280.03,331.85 1292.36,331.85" fill="#eae5e6"/>
<polygon points="1281.21,343.88 1269.12,346.29 1267.69,331.85 1280.03,331.85" fill="#eae5e6"/>
<polygon points="1269.12,346.29 1257.02,348.69 1255.36,331.85 1267.69,331.85" fill="#f1f0f6"/>
<polygon points="1257.02,348.69 1244.92,351.10 1243.03,331.85 1255.36,331.85" fill="#e6ddd9"/>
<polygon points="1244.92,351.10 1232.83,353.51 1230.69,331.85 1243.03,331.85" fill="#c7b992"/>
<polygon points="1232.83,353.51 1220.73,355.91 1218.36,331.85 1230.69,331.85" fill="#6a9e76"/>
<polygon points="1220.73,355.91 1208.63,358.32 1206.02,331.85 1218.36,331.85" fill="#81a47c"/>
<polygon points="1208.63,358.32 1196.53,360.73 1193.69,331.85 1206.02,331.85" fill="#d5c0a2"/>
<polygon points="1196.53,360.73 1184.44,363.13 1181.36,331.85 1193.69,331.85" fill="#c7b992"/>
<polygon points="1184.44,363.13 1172.34,365.54 1169.02,331.85 1181.36,331.85" fill="#e6ddd9"/>
<polygon points="1341.70,331.85 1329.37,331.85 1329.60,329.44 1341.70,331.85" fill="#f1f0f6"/>
<polygon points="1329.37,331.85 1317.03,331.85 1317.51,327.04 1329.60,329.44" fill="#f1f0f6"/>
<polygon points="1317.03,331.85 1304.70,331.85 1305.41,324.63 1317.51,327.04" fill="#ebe7ea"/>
<polygon points="1304.70,331.85 1292.36,331.85 1293.31,322.22 1305.41,324.63" fill="#ebe7ea"/>
<polygon points="1292.36,331.85 1280.03,331.85 1281.21,319.82 1293.31,322.22" fill="#96ab80"/>
<polygon points="1280.03,331.85 1267.69,331.85 1269.12,317.41 1281.21,319.82" fill="#96ab80"/>
<polygon points="1267.69,331.85 1255.36,331.85 1257.02,315.01 1269.12,317.41" fill="#76a179"/>
<polygon points="1255.36,331.85 1243.03,331.85 1244.92,312.60 1257.02,315.01" fill="#429371"/>
<polygon points="1243.03,331.85 1230.69,331.85 1232.83,310.19 1244.92,312.60" fill="#06766f"/>
<polygon points="1230.69,331.85 1218.36,331.85 1220.73,307.79 1232.83,310.19" fill="#06766f"/>
<polygon points="1218.36,331.85 1206.02,331.85 1208.63,305.38 1220.73,307.79" fill="#509772"/>
<polygon points="1206.02,331.85 1193.69,331.85 1196.53,302.97 1208.63,305.38" fill="#d9c7b1"/>
<polygon points="1193.69,331.85 1181.36,331.85 1184.44,300.57 1196.53,302.97" fill="#e0d5cc"/>
<polygon points="1181.36,331.85 1169.02,331.85 1172.34,298.16 1184.44,300.57" fill="#e0d5cc"/>
<polygon points="1341.70,331.85 1329.60,329.44 1330.30,327.13 1341.70,331.85" fill="#eae5e6"/>
<polygon points="1329.60,329.44 1317.51,327.04 1318.91,322.41 1330.30,327.13" fill="#e8e1e0"/>
<polygon points="1317.51,327.04 1305.41,324.63 1307.51,317.69 1318.91,322.41" fill="#d9c7b1"/>
<polygon points="1305.41,324.63 1293.31,322.22 1296.12,312.97 1307.51,317.69" fill="#b5b488"/>
<polygon points="1293.31,322.22 1281.21,319.82 1284.72,308.25 1296.12,312.97" fill="#ded0c2"/>
<polygon points="1281.21,319.82 1269.12,317.41 1273.33,303.53 1284.72,308.25" fill="#e6ddd9"/>
<polygon points="1269.12,317.41 1257.02,315.01 1261.93,298.81 1273.33,303.53" fill="#eae5e6"/>
<polygon points="1257.02,315.01 1244.92,312.60 1250.54,294.09 1261.93,298.81" fill="#eae5e6"/>
<polygon points="1244.92,312.60 1232.83,310.19 1239.14,289.37 1250.54,294.09" fill="#f1f0f6"/>
<polygon points="1341.70,331.85 1330.30,327.13 1331.44,325.00 1341.70,331.85" fill="#eae5e6"/>
<polygon points="1330.30,327.13 1318.91,322.41 1321.19,318.14 1331.44,325.00" fill="#dbcab8"/>
<polygon points="1318.91,322.41 1307.51,317.69 1310.93,311.29 1321.19,318.14" fill="#e8e1e0"/>
<polygon points="1307.51,317.69 1296.12,312.97 1300.68,304.44 1310.93,311.29" fill="#eae5e6"/>
<polygon points="1341.70,331.85 1331.44,325.00 1332.98,323.13 1341.70,331.85" fill="#eae5e6"/>
<polygon points="1331.44,325.00 1321.19,318.14 1324.26,314.41 1332.98,323.13" fill="#dfd2c7"/>
<polygon points="1341.70,331.85 1332.98,323.13 1334.85,321.59 1341.70,331.85" fill="#f1f0f6"/>
<polygon points="1332.98,323.13 1324.26,314.41 1327.99,311.34 1334.85,321.59" fill="#e6ddd9"/>
<polygon points="1341.70,331.85 1334.85,321.59 1336.98,320.45 1341.70,331.85" fill="#f1f0f6"/>
<polygon points="1334.85,321.59 1327.99,311.34 1332.26,309.06 1336.98,320.45" fill="#eae5e6"/>
<polygon points="1341.70,331.85 1336.98,320.45 1339.29,319.75 1341.70,331.85" fill="#f1f0f6"/>
<polygon points="1336.98,320.45 1332.26,309.06 1336.89,307.66 1339.29,319.75" fill="#eae5e6"/>
<polygon points="1341.70,331.85 1339.29,319.75 1341.70,319.52 1341.70,331.85" fill="#f1f0f6"/>
<polygon points="1339.29,319.75 1336.89,307.66 1341.70,307.18 1341.70,319.52" fill="#e8e1e0"/>
</g>
<g stroke="#b0b0b0" stroke-width="1.11" fill="none">
<line x1="1341.7" y1="331.85" x2="1507.41" y2="166.14"/>
<line x1="1341.7" y1="331.85" x2="1507.41" y2="497.56"/>
<line x1="1341.7" y1="331.85" x2="1175.99" y2="497.56"/>
<line x1="1341.7" y1="331.85" x2="1175.99" y2="166.14"/>
<line x1="1107.35" y1="332.5" x2="1576.05" y2="332.5"/>
<line x1="1342.5" y1="97.50" x2="1342.5" y2="566.20"/>
<circle cx="1341.7" cy="331.85" r="50.33"/>
<circle cx="1341.7" cy="331.85" r="100.65"/>
<circle cx="1341.7" cy="331.85" r="150.98"/>
<circle cx="1341.7" cy="331.85" r="201.30"/>
</g>
<circle cx="1341.7" cy="331.85" r="234.35" fill="none" stroke="#000" stroke-width="1.11"/>
<rect x="1575.25" y="331.05" width="1.6" height="1.6" fill="#000"/>
<text x="1342.6000000000001" y="83.8" font-size="19.4" text-anchor="middle">N</text>
<text x="1342.5" y="591.7" font-size="19.4" text-anchor="middle">S</text>
<text x="1596.45" y="337.9" font-size="19.4" text-anchor="middle">E</text>
<text x="1088.8500000000001" y="337.9" font-size="19.4" text-anchor="middle">W</text>
<text x="1403.2" y="309.3" font-size="19" text-anchor="middle">0.5</text>
<text x="1449.7" y="290.0" font-size="19" text-anchor="middle">1.0</text>
<text x="1496.2" y="270.8" font-size="19" text-anchor="middle">1.5</text>
<text x="1542.7" y="250.9" font-size="19" text-anchor="middle">2.0</text>
<text x="1341.7" y="61" font-size="25" text-anchor="middle">CIOFS-NWGOA</text>
</g>
<text x="806.2" y="32" font-size="27.8" text-anchor="middle">Jul 2005</text>
<rect x="406.5" y="605.5" width="800.0" height="30.0" fill="url(#cb)" stroke="#000" stroke-width="1.11"/>
<line x1="406.5" y1="635.5" x2="406.5" y2="657.4" stroke="#000" stroke-width="1.11"/>
<text x="406.5" y="681" font-size="23.6" text-anchor="middle">0</text>
<line x1="497.5" y1="635.5" x2="497.5" y2="657.4" stroke="#000" stroke-width="1.11"/>
<text x="497.5" y="681" font-size="23.6" text-anchor="middle">5</text>
<line x1="588.5" y1="635.5" x2="588.5" y2="657.4" stroke="#000" stroke-width="1.11"/>
<text x="588.5" y="681" font-size="23.6" text-anchor="middle">10</text>
<line x1="679.5" y1="635.5" x2="679.5" y2="657.4" stroke="#000" stroke-width="1.11"/>
<text x="679.5" y="681" font-size="23.6" text-anchor="middle">15</text>
<line x1="769.5" y1="635.5" x2="769.5" y2="657.4" stroke="#000" stroke-width="1.11"/>
<text x="769.5" y="681" font-size="23.6" text-anchor="middle">20</text>
<line x1="860.5" y1="635.5" x2="860.5" y2="657.4" stroke="#000" stroke-width="1.11"/>
<text x="860.5" y="681" font-size="23.6" text-anchor="middle">25</text>
<line x1="951.5" y1="635.5" x2="951.5" y2="657.4" stroke="#000" stroke-width="1.11"/>
<text x="951.5" y="681" font-size="23.6" text-anchor="middle">30</text>
<line x1="1042.5" y1="635.5" x2="1042.5" y2="657.4" stroke="#000" stroke-width="1.11"/>
<text x="1042.5" y="681" font-size="23.6" text-anchor="middle">35</text>
<line x1="1133.5" y1="635.5" x2="1133.5" y2="657.4" stroke="#000" stroke-width="1.11"/>
<text x="1133.5" y="681" font-size="23.6" text-anchor="middle">40</text>
<text x="805" y="709" font-size="22.2" text-anchor="middle">Currents [m/s] at COI1210; number of occurrences</text>
</svg></body></html>
